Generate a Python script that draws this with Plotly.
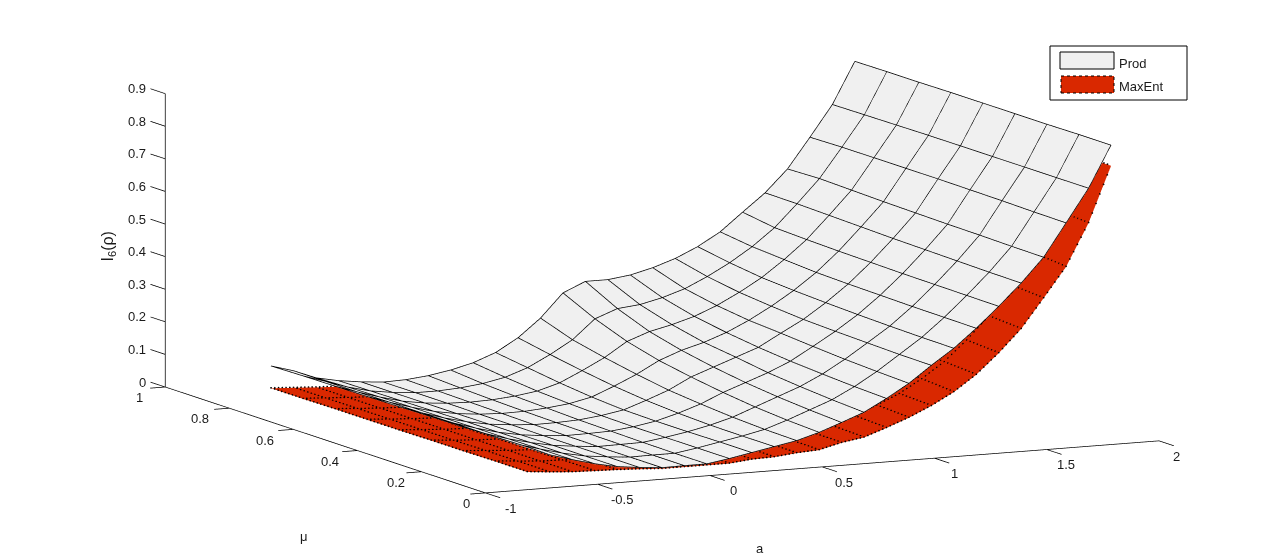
import math
import plotly.graph_objects as go

a_vals = [round(-0.6 + 0.1 * i, 1) for i in range(27)]
mu_vals = [0.95, 0.85, 0.75, 0.65, 0.55, 0.45, 0.35, 0.25, 0.15]

prod = [
 [.058,.060,.061,.062,.063,.065,.066,.068,.070],
 [.038,.038,.038,.039,.039,.040,.040,.040,.040],
 [.011,.015,.017,.018,.018,.019,.019,.020,.020],
 [-.003,-.002,-.001,.000,.001,.001,.002,.002,.002],
 [-.012,-.012,-.012,-.012,-.012,-.012,-.012,-.012,-.012],
 [-.018,-.018,-.018,-.019,-.019,-.020,-.020,-.020,-.020],
 [-.016,-.018,-.020,-.022,-.024,-.025,-.026,-.026,-.026],
 [-.009,-.014,-.018,-.021,-.023,-.024,-.025,-.025,-.025],
 [.003,-.006,-.012,-.016,-.020,-.022,-.024,-.025,-.025],
 [.020,.008,-.002,-.008,-.012,-.014,-.014,-.014,-.014],
 [.046,.032,.018,.007,.000,-.002,-.002,-.001,-.001],
 [.086,.067,.050,.035,.024,.017,.013,.012,.012],
 [.141,.107,.085,.066,.050,.040,.032,.027,.025],
 [.213,.166,.129,.103,.085,.070,.058,.050,.045],
 [.243,.192,.154,.129,.110,.095,.084,.076,.070],
 [.243,.199,.170,.148,.135,.120,.110,.102,.096],
 [.252,.215,.190,.173,.160,.150,.143,.137,.133],
 [.269,.237,.218,.205,.198,.190,.183,.178,.174],
 [.292,.269,.253,.243,.235,.231,.228,.225,.224],
 [.323,.306,.293,.286,.281,.277,.274,.272,.271],
 [.363,.350,.343,.336,.333,.331,.329,.328,.327],
 [.418,.403,.399,.396,.394,.392,.391,.390,.389],
 [.472,.471,.468,.465,.462,.460,.458,.456,.455],
 [.540,.543,.540,.537,.535,.533,.532,.530,.529],
 [.632,.634,.634,.634,.634,.633,.632,.630,.629],
 [.727,.728,.729,.730,.730,.730,.730,.730,.730],
 [.854,.855,.855,.856,.856,.856,.856,.857,.857],
]

maxent = [
 [-.009,-.009,-.008,-.008,-.008,-.007,-.007,-.006,-.006],
 [-.013,-.013,-.013,-.013,-.013,-.013,-.012,-.012,-.012],
 [-.017,-.017,-.017,-.017,-.017,-.017,-.017,-.017,-.017],
 [-.020,-.020,-.020,-.020,-.020,-.020,-.020,-.019,-.019],
 [-.022,-.022,-.022,-.022,-.022,-.022,-.022,-.021,-.021],
 [-.024,-.024,-.024,-.024,-.024,-.024,-.024,-.024,-.024],
 [-.026,-.026,-.027,-.027,-.028,-.028,-.028,-.028,-.028],
 [-.026,-.026,-.027,-.027,-.028,-.028,-.028,-.028,-.028],
 [-.024,-.025,-.026,-.026,-.027,-.027,-.028,-.028,-.028],
 [-.020,-.022,-.023,-.024,-.025,-.026,-.027,-.028,-.028],
 [-.015,-.017,-.019,-.020,-.021,-.022,-.022,-.021,-.021],
 [-.005,-.008,-.011,-.014,-.016,-.018,-.019,-.019,-.019],
 [.020,.012,.006,.000,-.004,-.008,-.010,-.012,-.012],
 [.060,.040,.025,.012,.003,-.002,-.005,-.007,-.008],
 [.090,.065,.045,.032,.022,.015,.011,.010,.009],
 [.100,.080,.065,.052,.045,.035,.028,.023,.020],
 [.120,.100,.088,.078,.070,.062,.054,.048,.044],
 [.140,.125,.115,.105,.098,.090,.082,.075,.070],
 [.170,.155,.145,.135,.128,.120,.112,.105,.101],
 [.205,.192,.182,.175,.167,.160,.152,.145,.138],
 [.250,.238,.228,.220,.212,.206,.198,.192,.186],
 [.310,.298,.288,.280,.272,.266,.260,.253,.247],
 [.380,.368,.358,.350,.342,.335,.328,.322,.316],
 [.470,.458,.448,.440,.432,.425,.418,.411,.405],
 [.565,.552,.542,.535,.528,.520,.512,.504,.496],
 [.680,.668,.660,.655,.650,.645,.638,.630,.625],
 [.800,.798,.797,.796,.795,.795,.795,.795,.795],
]

z_ticks = [0, .1, .2, .3, .4, .5, .6, .7, .8, .9]
a_ticks = [-1, -.5, 0, .5, 1, 1.5, 2]
mu_ticks = [0, .2, .4, .6, .8, 1]
lab = lambda v: f"{v:g}"

AZ = math.radians(25.8)
EL = math.radians(9.2)
ZOOM = 2.65
R = 5.0
CENTER = (-.0133 * ZOOM, .0064 * ZOOM, .0074 * ZOOM)
BLACK = "#000000"
GRAY = "#f0f0f0"
RED = "#d92800"
LIFT = 0.0015
LINE_W = 1.5


def mesh(z, color):
    xs, ys, zs = [], [], []
    for i, a in enumerate(a_vals):
        for j, m in enumerate(mu_vals):
            xs.append(a); ys.append(m); zs.append(z[i][j] + LIFT)
        xs.append(None); ys.append(None); zs.append(None)
    for j, m in enumerate(mu_vals):
        for i, a in enumerate(a_vals):
            xs.append(a); ys.append(m); zs.append(z[i][j] + LIFT)
        xs.append(None); ys.append(None); zs.append(None)
    return go.Scatter3d(x=xs, y=ys, z=zs, mode="lines", showlegend=False, hoverinfo="skip",
                        line=dict(color=color, width=LINE_W))


def dotted_mesh(z, color, n_mu=9, n_a=6):
    # MATLAB's ':' edge style: black dots strung along the mesh edges of the table
    xs, ys, zs = [], [], []
    for i, a in enumerate(a_vals):
        for j in range(len(mu_vals) - 1):
            for k in range(n_mu):
                t = k / n_mu
                xs.append(a)
                ys.append(mu_vals[j] + t * (mu_vals[j + 1] - mu_vals[j]))
                zs.append(z[i][j] + t * (z[i][j + 1] - z[i][j]) + LIFT)
    for j, m in enumerate(mu_vals):
        for i in range(len(a_vals) - 1):
            for k in range(n_a):
                t = k / n_a
                xs.append(a_vals[i] + t * (a_vals[i + 1] - a_vals[i]))
                ys.append(m)
                zs.append(z[i][j] + t * (z[i + 1][j] - z[i][j]) + LIFT)
    return go.Scatter3d(x=xs, y=ys, z=zs, mode="markers", showlegend=False, hoverinfo="skip",
                        marker=dict(color=color, size=1, line=dict(width=0)))


def surf(z, color, name):
    return go.Surface(x=a_vals, y=mu_vals, z=[[z[i][j] for i in range(len(a_vals))] for j in range(len(mu_vals))],
                      colorscale=[[0, color], [1, color]], showscale=False, name=name,
                      lighting=dict(ambient=1, diffuse=0, specular=0, fresnel=0, roughness=1),
                      hoverinfo="skip")


def axes_lines():
    xs, ys, zs = [], [], []
    def seg(p, q):
        xs.extend([p[0], q[0], None]); ys.extend([p[1], q[1], None]); zs.extend([p[2], q[2], None])
    seg((-1, 0, 0), (2, 0, 0))
    seg((-1, 0, 0), (-1, 1, 0))
    seg((-1, 1, 0), (-1, 1, .9))
    for v in a_ticks:
        seg((v, 0, 0), (v, -.046, 0))
    for v in mu_ticks:
        seg((-1, v, 0), (-1.067, v, 0))
    for v in z_ticks:
        seg((-1, 1, v), (-1, 1.046, v))
    return go.Scatter3d(x=xs, y=ys, z=zs, mode="lines", showlegend=False, hoverinfo="skip",
                        line=dict(color=BLACK, width=LINE_W))


fig = go.Figure([surf(maxent, RED, "MaxEnt"), dotted_mesh(maxent, BLACK),
                 surf(prod, GRAY, "Prod"), mesh(prod, BLACK), axes_lines()])

FONT = dict(family="Liberation Sans, Arial, sans-serif", size=13, color="#1a1a1a")
scene_ann = []
for v in z_ticks:
    scene_ann.append(dict(x=-1, y=1.046, z=v, text=lab(v), showarrow=False, xanchor="right", yanchor="middle", xshift=-3, font=FONT))
for v in a_ticks:
    scene_ann.append(dict(x=v, y=-.046, z=0, text=lab(v), showarrow=False, xanchor="center", yanchor="top",
                          yshift=-1, xshift=11 - (v + 1) * 2.67, font=FONT))
for v in mu_ticks:
    scene_ann.append(dict(x=-1.067, y=v, z=0, text=lab(v), showarrow=False, xanchor="right", yanchor="top",
                          xshift=2 - 7 * v, yshift=0, font=FONT))

hidden = dict(visible=False)
fig.update_layout(
    width=1280, height=558, margin=dict(l=0, r=0, t=0, b=0),
    paper_bgcolor="white", showlegend=False,
    scene=dict(
        domain=dict(x=[0, 1], y=[0, 1]),
        xaxis=dict(range=[-1.15, 2.05], **hidden),
        yaxis=dict(range=[-.1, 1.1], **hidden),
        zaxis=dict(range=[-.12, .92], **hidden),
        aspectmode="manual",
        aspectratio=dict(x=ZOOM * 1.012 * 3.2 / 3, y=ZOOM * .995 * 1.2, z=ZOOM * 1.01 * .4422 * 1.04),
        camera=dict(
            projection=dict(type="orthographic"),
            up=dict(x=0, y=0, z=1),
            center=dict(x=CENTER[0], y=CENTER[1], z=CENTER[2]),
            eye=dict(x=CENTER[0] - R * math.cos(EL) * math.sin(AZ),
                     y=CENTER[1] - R * math.cos(EL) * math.cos(AZ),
                     z=CENTER[2] + R * math.sin(EL)),
        ),
        annotations=scene_ann,
    ),
    shapes=[
        dict(type="rect", xref="paper", yref="paper", x0=1050/1280, x1=1187/1280, y0=1-100/558, y1=1-46/558,
             line=dict(color=BLACK, width=1), fillcolor="white"),
        dict(type="rect", xref="paper", yref="paper", x0=1060/1280, x1=1114/1280, y0=1-69/558, y1=1-52/558,
             line=dict(color=BLACK, width=1), fillcolor=GRAY),
        dict(type="rect", xref="paper", yref="paper", x0=1061/1280, x1=1114/1280, y0=1-93/558, y1=1-76/558,
             line=dict(color=BLACK, width=1, dash="dot"), fillcolor=RED),
    ],
    annotations=[
        dict(xref="paper", yref="paper", x=1117/1280, y=1-63/558, text="Prod", showarrow=False, xanchor="left", yanchor="middle", font=FONT),
        dict(xref="paper", yref="paper", x=1117/1280, y=1-87/558, text="MaxEnt", showarrow=False, xanchor="left", yanchor="middle", font=FONT),
        dict(xref="paper", yref="paper", x=298/1280, y=1-536/558, text="μ", showarrow=False, yanchor="middle", font=dict(FONT, size=13)),
        dict(xref="paper", yref="paper", x=760/1280, y=1-548/558, text="a", showarrow=False, yanchor="middle", font=dict(FONT, size=13)),
        dict(xref="paper", yref="paper", x=96/1280, y=1-247/558, text="I<sub>6</sub>(ρ)", showarrow=False, yanchor="middle", textangle=-90, font=dict(FONT, size=16)),
    ],
)
fig.write_html("out.html", post_script="document.body.style.margin='0';", config=dict(displayModeBar=False))
